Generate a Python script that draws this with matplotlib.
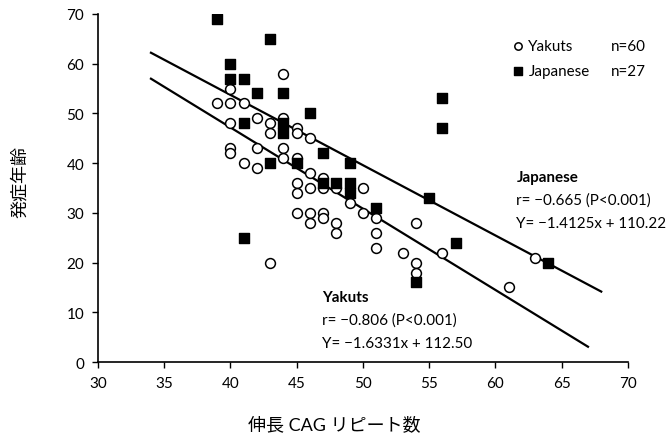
import matplotlib
matplotlib.use("Agg")
import matplotlib.pyplot as plt
import numpy as np

plt.rcParams['font.family'] = ['Lato', 'Noto Sans CJK JP', 'DejaVu Sans']

# Yakuts (open circles): CAG repeat, age of onset
yak_x = [44, 40, 39, 40, 41, 42, 43, 40, 44, 45, 43, 45, 46, 40, 40, 42, 44, 41, 42, 44,
         45, 46, 47, 47, 46, 45, 45, 45, 46, 47, 47, 46, 48, 48, 48, 49, 50, 50, 51, 51,
         51, 54, 53, 56, 54, 54, 61, 63, 43]
yak_y = [58, 55, 52, 52, 52, 49, 48, 48, 49, 47, 46, 46, 45, 43, 42, 43, 43, 40, 39, 41,
         41, 38, 37, 35, 35, 36, 34, 30, 30, 30, 29, 28, 28, 26, 35, 32, 35, 30, 29, 26,
         23, 28, 22, 22, 20, 18, 15, 21, 20]

# Japanese (filled squares)
jap_x = [39, 43, 40, 40, 41, 42, 44, 46, 41, 44, 44, 47, 43, 45, 47, 48, 49, 49, 49, 51,
         55, 56, 56, 57, 54, 64, 41]
jap_y = [69, 65, 60, 57, 57, 54, 54, 50, 48, 48, 46, 42, 40, 40, 36, 36, 36, 34, 40, 31,
         33, 53, 47, 24, 16, 20, 25]

# Regression lines
jap_slope, jap_icpt = -1.4125, 110.22
yak_slope, yak_icpt = -1.6331, 112.50
jap_line_x = [34, 68]
yak_line_x = [34, 67]

xticks = [30, 35, 40, 45, 50, 55, 60, 65, 70]
yticks = [0, 10, 20, 30, 40, 50, 60, 70]

fig = plt.figure(figsize=(6.68, 4.39), dpi=100)
ax = fig.add_axes([0.1467, 0.173, 0.793, 0.793])

ax.scatter(yak_x, yak_y, s=50, facecolors='white', edgecolors='black', linewidths=1.1,
           marker='o', zorder=3)
ax.scatter(jap_x, jap_y, s=46, facecolors='black', edgecolors='black', marker='s', zorder=3)

jx = np.array(jap_line_x, dtype=float)
yx = np.array(yak_line_x, dtype=float)
ax.plot(jx, jap_slope * jx + jap_icpt, color='black', lw=1.6, zorder=2)
ax.plot(yx, yak_slope * yx + yak_icpt, color='black', lw=1.6, zorder=2)

ax.set_xlim(30, 70)
ax.set_ylim(0, 70)
ax.set_xticks(xticks)
ax.set_yticks(yticks)
ax.tick_params(axis='both', labelsize=11, length=4, width=1, direction='out', pad=6)
for s in ['top', 'right']:
    ax.spines[s].set_visible(False)
for s in ['left', 'bottom']:
    ax.spines[s].set_linewidth(1.2)

fig.text(20 / 668, 1 - 182 / 439, '発症年齢', fontsize=13, rotation=90,
         ha='center', va='center')
fig.text(334 / 668, 1 - 425 / 439, '伸長 CAG リピート数', fontsize=13,
         ha='center', va='center')

# Annotations
fs = 10.9
ax.text(61.6, 37.2, 'Japanese', fontsize=fs, fontweight='bold', va='center')
ax.text(61.6, 32.6, 'r= \u22120.665 (P<0.001)', fontsize=fs, va='center')
ax.text(61.6, 28.0, 'Y= \u22121.4125x + 110.22', fontsize=fs, va='center')
ax.text(46.9, 13.1, 'Yakuts', fontsize=fs, fontweight='bold', va='center')
ax.text(46.9, 8.5, 'r= \u22120.806 (P<0.001)', fontsize=fs, va='center')
ax.text(46.9, 3.8, 'Y= \u22121.6331x + 112.50', fontsize=fs, va='center')

# Legend (manual)
ax.scatter([61.7], [63.6], s=28, facecolors='white', edgecolors='black', linewidths=1.1,
           marker='o', clip_on=False)
ax.scatter([61.7], [58.6], s=26, facecolors='black', marker='s', clip_on=False)
ax.text(62.5, 63.6, 'Yakuts', fontsize=fs, va='center')
ax.text(62.5, 58.6, 'Japanese', fontsize=fs, va='center')
ax.text(68.7, 63.6, 'n=60', fontsize=fs, va='center')
ax.text(68.7, 58.6, 'n=27', fontsize=fs, va='center')

fig.savefig('out.png', dpi=100)
